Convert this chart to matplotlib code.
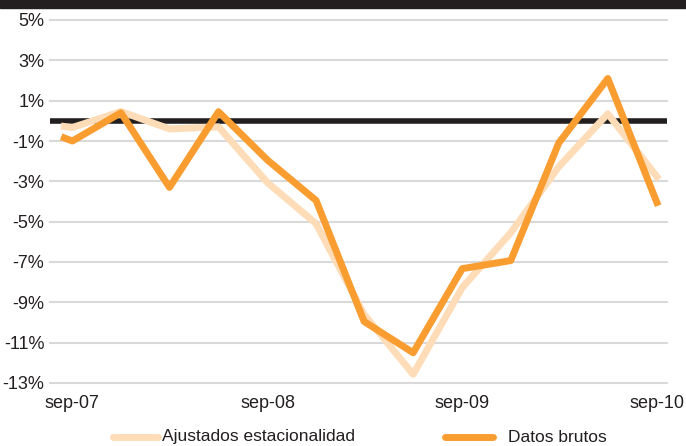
import matplotlib.pyplot as plt
import matplotlib.lines as mlines
import pandas as pd

fechas = ['2007-08-17', '2007-09-01', '2007-12-01', '2008-03-01', '2008-06-01',
          '2008-09-01', '2008-12-01', '2009-03-01', '2009-06-01', '2009-09-01',
          '2009-12-01', '2010-03-01', '2010-06-01', '2010-09-01']
ajustados = [-0.28, -0.33, 0.46, -0.4, -0.3, -3.07, -5.1, -9.6, -12.57,
             -8.27, -5.55, -2.28, 0.35, -2.77]
brutos = [-0.85, -1.0, 0.4, -3.3, 0.45, -1.95, -3.95, -9.95, -11.5,
          -7.33, -6.93, -1.1, 2.1, -4.05]
yticks = [5, 3, 1, -1, -3, -5, -7, -9, -11, -13]
xticks = ['2007-09-01', '2008-09-01', '2009-09-01', '2010-09-01']
xlabels = ['sep-07', 'sep-08', 'sep-09', 'sep-10']
series = ['Ajustados estacionalidad', 'Datos brutos']
colores = ['#fddcb7', '#f99d31']

plt.rcParams['font.family'] = ['Liberation Sans', 'DejaVu Sans']

W, H = 686, 446
x = pd.to_datetime(fechas)
fig = plt.figure(figsize=(W/100, H/100), dpi=100)
ax = fig.add_axes([50/W, 63/H, 617/W, 363/H])

# franja negra del titulo (cortado)
fig.patches.append(plt.Rectangle((0, 1 - 8/H), 1, 8/H, transform=fig.transFigure,
                                 color='#231f20', zorder=0))

for v in yticks:
    ax.axhline(v, color='#d9d9d9', lw=1.5, zorder=1, clip_on=False)
ax.axhline(0, color='#231f20', lw=4, zorder=2)

ax.plot(x, ajustados, color=colores[0], lw=5, zorder=3)
ax.plot(x, brutos, color=colores[1], lw=5, zorder=4)

ax.set_ylim(-13, 5)
ax.set_yticks(yticks)
ax.set_yticklabels([f'{v}%' for v in yticks], fontsize=13, color='#231f20')
ax.set_xlim(pd.Timestamp('2007-07-21'), pd.Timestamp('2010-09-20'))
ax.set_xticks(pd.to_datetime(xticks))
ax.set_xticklabels(xlabels, fontsize=13, color='#231f20')
ax.tick_params(length=0, pad=4)
ax.tick_params(axis='x', pad=9)
for s in ax.spines.values():
    s.set_visible(False)

# leyenda manual abajo
ly = 1 - 437/H
for (x0, x1, tx), nombre, c in zip([(113, 158, 162), (445, 493, 508)], series, colores):
    fig.add_artist(mlines.Line2D([x0/W, x1/W], [ly, ly], color=c, lw=5,
                                 solid_capstyle='round', transform=fig.transFigure))
    fig.text(tx/W, ly, nombre, fontsize=12.5, color='#231f20', va='center', ha='left')

fig.savefig('out.png', dpi=100)
